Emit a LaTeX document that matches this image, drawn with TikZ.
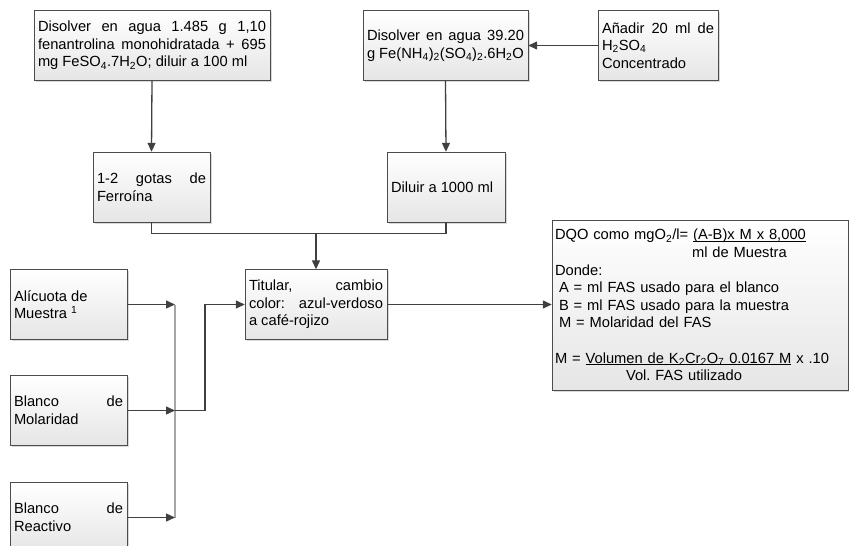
\documentclass[tikz,border=0pt]{standalone}
\usepackage{fontspec}
\setmainfont{Liberation Sans}
\usetikzlibrary{arrows.meta, shadows}
\newcommand{\subi}[1]{\textsubscript{#1}}
\newcommand{\subraya}[1]{\setbox0\hbox{#1}\rlap{\rule[-2pt]{\wd0}{0.8pt}}\box0\relax}
\frenchspacing

\tikzset{
  paso/.style={draw=black!70, top color=white, bottom color=black!10,
    inner xsep=4pt, inner ysep=0pt, align=justify, minimum height=70pt,
    drop shadow={shadow xshift=1.5pt, shadow yshift=-1.5pt, opacity=0.3},
    font=\fontsize{14.7}{17.6}\selectfont},
  flecha/.style={draw=black!75, line width=1.3pt, -{Triangle[length=9pt,width=8pt]}},
  linea/.style={draw=black!75, line width=1.3pt}
}

\begin{document}
\begin{tikzpicture}[x=1pt, y=-1pt]
\useasboundingbox (0,0) rectangle (849,546);
% reactivos
\node[paso, text width=228pt] (fen) at (152,45.5) {Disolver en agua 1.485 g 1,10\linebreak fenantrolina monohidratada + 695\linebreak mg FeSO\subi{4}.7H\subi{2}O; diluir a 100 ml};
\node[paso, text width=157pt] (fe) at (445.5,45.5) {Disolver en agua 39.20\linebreak g Fe(NH\subi{4})\subi{2}(SO\subi{4})\subi{2}.6H\subi{2}O};
\node[paso, text width=112pt] (ana) at (658,45.5) {Añadir 20 ml de\linebreak H\subi{2}SO\subi{4}\\Concentrado};
\node[paso, text width=109pt] (ferr) at (151.5,187) {1-2 gotas de\linebreak Ferroína};
\node[paso, text width=110pt] (dil) at (446,187) {Diluir a 1000 ml};
\node[paso, text width=134pt] (tit) at (316,304.5) {Titular, cambio\linebreak color: azul-verdoso\linebreak a café-rojizo};
% muestras
\node[paso, text width=109pt] (ali) at (68.5,304.5) {Alícuota de\\Muestra \textsuperscript{1}};
\node[paso, text width=109pt] (mol) at (68.5,410.5) {Blanco de\linebreak Molaridad};
\node[paso, text width=109pt] (rea) at (68.5,517.5) {Blanco de\linebreak Reactivo};
% calculo
\node[paso, text width=290pt, inner xsep=3pt, minimum height=170pt, align=left] (dqo) at (700,305) {DQO como mgO\subi{2}/l= \subraya{(A-B)x M x 8,000}\\
\hspace*{137pt}ml de Muestra\\
Donde:\\
\hspace*{4pt}A = ml FAS usado para el blanco\\
\hspace*{4pt}B = ml FAS usado para la muestra\\
\hspace*{4pt}M = Molaridad del FAS\\[17.6pt]
M = \subraya{Volumen de K\subi{2}Cr\subi{2}O\subi{7} 0.0167 M} x .10\\
\hspace*{71pt}Vol. FAS utilizado};

\draw[flecha] (fen.south) -- (ferr.north);
\draw[flecha] (fe.south) -- (dil.north);
\draw[flecha] (ana.west) -- (fe.east);
\path (tit.north) ++(0,-36) coordinate (union);
\draw[linea] (ferr.south) |- (union) -| (dil.south);
\draw[flecha] (union) -- (tit.north);

\coordinate (barra1) at (175,305);
\coordinate (barra2) at (175,518);
\draw[black!35, line width=2pt] (barra1) -- (barra2);
\draw[flecha] (ali.east) -- (ali.east -| barra1);
\draw[flecha] (mol.east) -- (mol.east -| barra1);
\draw[flecha] (rea.east) -- (rea.east -| barra1);
\draw[flecha] (mol.east -| barra1) -- ++(30,0) |- (tit.west);
\draw[flecha] (tit.east) -- (tit.east -| dqo.west);
\end{tikzpicture}
\end{document}
